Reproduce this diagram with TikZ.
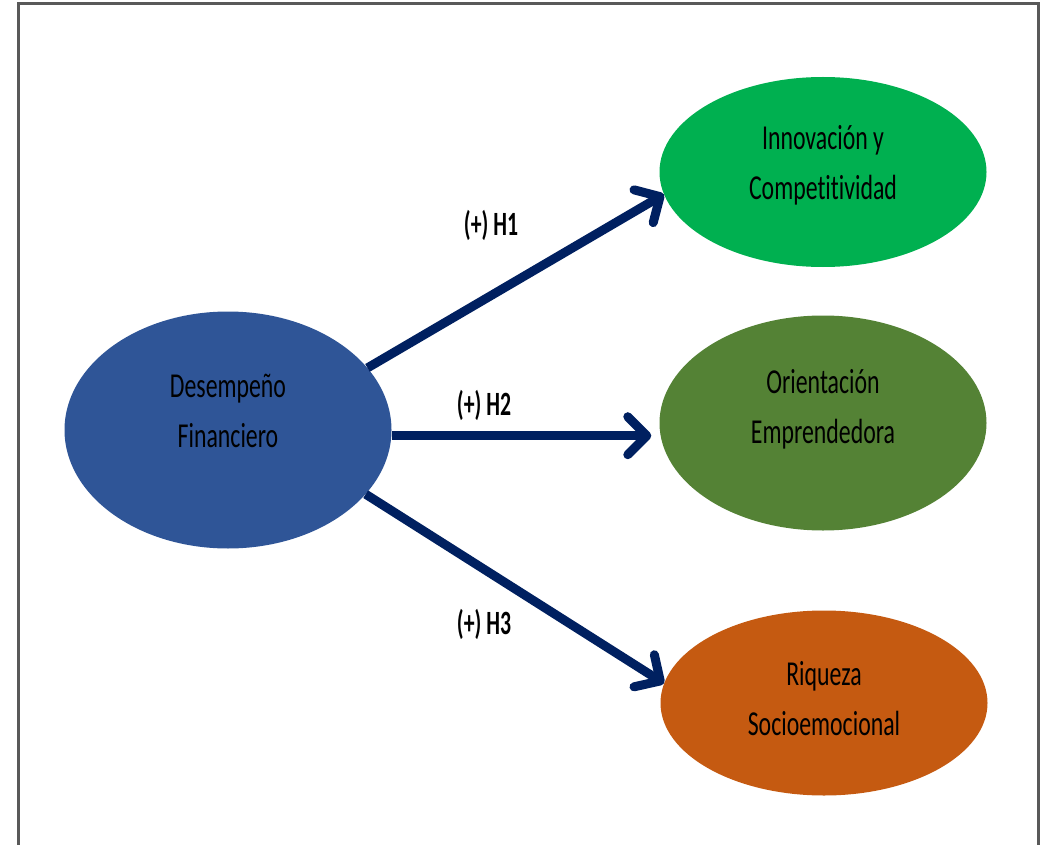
\documentclass[tikz,border=0pt]{standalone}
\usepackage{fontspec}
\setmainfont{Carlito}[FakeStretch=0.68, Ligatures=NoCommon]
\newfontfamily\etiq{Carlito}[FakeStretch=0.64]
\usepackage{xcolor}
\usepackage{tikz}
\usetikzlibrary{arrows.meta}
\usetikzlibrary{shapes}

\definecolor{azul}{HTML}{2F5597}
\definecolor{verde}{HTML}{00B050}
\definecolor{oliva}{HTML}{548235}
\definecolor{naranja}{HTML}{C55A11}
\definecolor{marino}{HTML}{002060}
\definecolor{marco}{HTML}{595959}

\begin{document}
\begin{tikzpicture}[x=1pt, y=-1pt, >={Straight Barb[length=19pt,width=38pt,line cap=round,line join=round]},
	elipse/.style={ellipse, inner sep=0pt, minimum width=327pt},
	texto/.style={align=center, font=\fontsize{35}{50}\selectfont},
	flecha/.style={->, line width=9pt, draw=marino},
	etiqueta/.style={font=\etiq\bfseries\fontsize{34}{40}\selectfont}]

\useasboundingbox (0,0) rectangle (1041,845);
\draw[line width=3pt, draw=marco] (18,850) -- (18,4) -- (1038,4) -- (1038,850);

\node (dese) at (228,430) [elipse, fill=azul, minimum height=237pt,
	label={[texto, yshift=19pt]center:Desempeño\\Financiero}] {};
\node (inno) at (823,172) [elipse, fill=verde, minimum height=190pt,
	label={[texto, yshift=7pt]center:Innovación y\\Competitividad}] {};
\node (orie) at (823,423) [elipse, fill=oliva, minimum height=215pt,
	label={[texto, yshift=14pt]center:Orientación\\Emprendedora}] {};
\node (riqu) at (824,703) [elipse, fill=naranja, minimum height=185pt,
	label={[texto, yshift=4pt]center:Riqueza\\Socioemocional}] {};

\draw[flecha] (dese.24) -- (inno.188);
\draw[flecha, shorten >=8pt] (dese.358) -- (dese.358 -| orie.west);
\draw[flecha] (dese.-25) -- (riqu.173);

\node (h1) at (491,225) [etiqueta] {(+) H1};
\node (h2) at (484,405) [etiqueta] {(+) H2};
\node (h3) at (484,624) [etiqueta] {(+) H3};

\end{tikzpicture}
\end{document}
